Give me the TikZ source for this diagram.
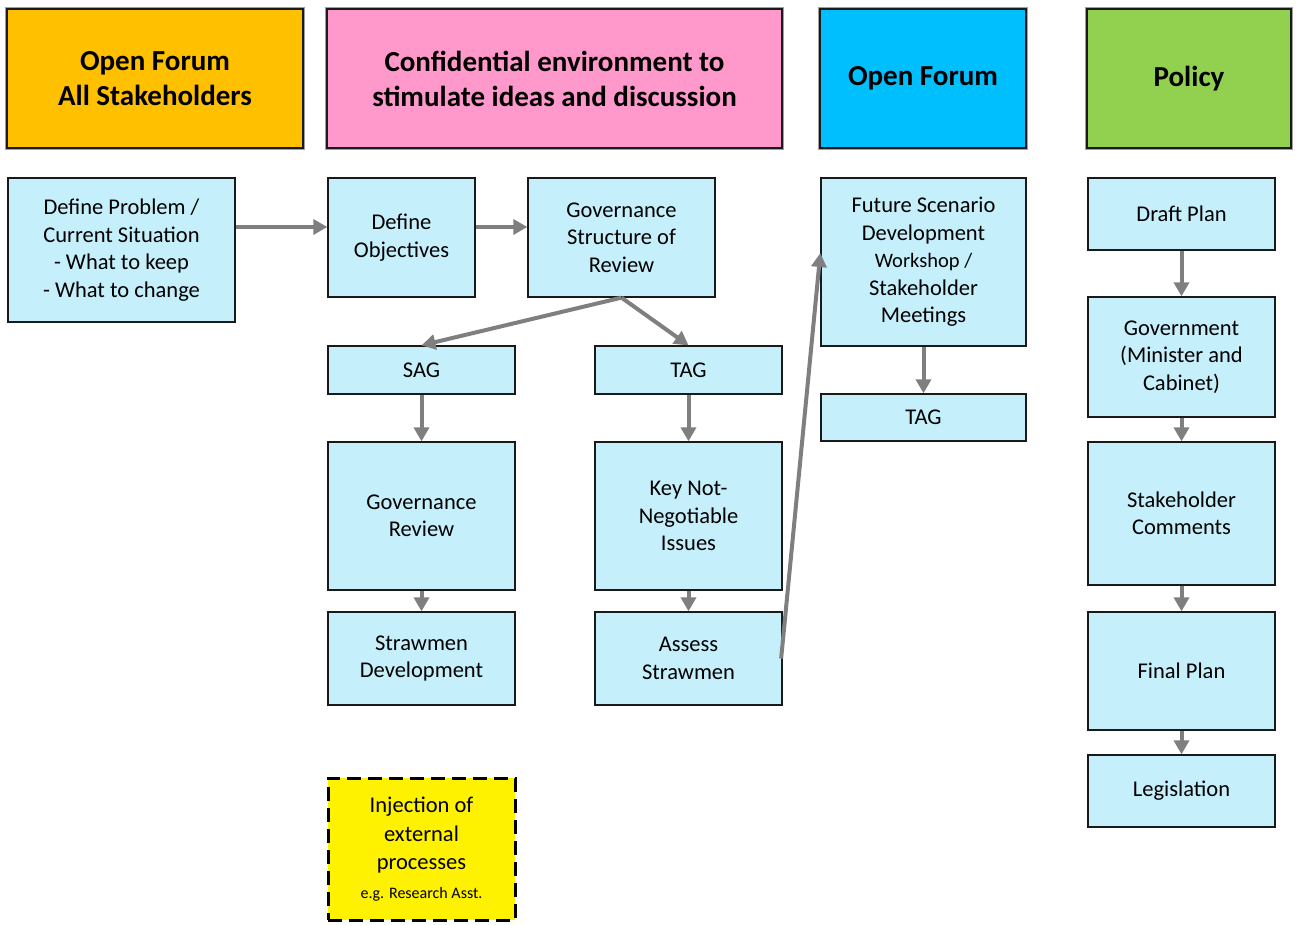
\documentclass[tikz,border=0pt]{standalone}
\usepackage{fontspec}
\setmainfont{Carlito}
\usetikzlibrary{arrows.meta}
\definecolor{boxblue}{HTML}{C6EFFC}
\definecolor{hdrorange}{HTML}{FFC000}
\definecolor{hdrpink}{HTML}{FF99CC}
\definecolor{hdrblue}{HTML}{00BFFF}
\definecolor{hdrgreen}{HTML}{92D050}
\definecolor{flowgray}{HTML}{7F7F7F}
\definecolor{edge}{HTML}{1A1A1A}
\tikzset{
  header/.style={draw=edge, line width=1.2pt, align=center, inner sep=0pt,
    preaction={draw=gray!75, line width=4.5pt},
    font=\fontsize{29}{35}\selectfont\bfseries},
  stepbox/.style={draw=edge, line width=1.3pt, fill=boxblue, align=center, inner sep=0pt,
    font=\fontsize{22.5}{27.5}\selectfont},
  extbox/.style={draw=black, line width=3pt, dash pattern=on 14pt off 7pt, fill=yellow,
    align=center, inner sep=0pt, font=\fontsize{22.5}{28.5}\selectfont},
  flow/.style={draw=flowgray, line width=4pt, -{Triangle[length=14pt,width=15pt]}}
}
\begin{document}
\begin{tikzpicture}[x=1pt,y=-1pt]
\useasboundingbox (0,0) rectangle (1296,924);

% column headers
\node[header, fill=hdrorange, minimum width=296pt, minimum height=139pt] (h1) at (155,78.5) {Open Forum\\All Stakeholders};
\node[header, fill=hdrpink, minimum width=455pt, minimum height=139pt] (h2) at (554.5,78.5) {Confidential environment to\\stimulate ideas and discussion};
\node[header, fill=hdrblue, minimum width=206pt, minimum height=139pt] (h3) at (923,78.5) {Open Forum};
\node[header, fill=hdrgreen, minimum width=204pt, minimum height=139pt] (h4) at (1189,78.5) {Policy};

% open forum: problem definition
\node[stepbox, minimum width=227pt, minimum height=144pt] (prob) at (121.5,250) {Define Problem /\\Current Situation\\- What to keep\\- What to change};

% confidential work
\node[stepbox, minimum width=147pt, minimum height=119pt] (obj) at (401.5,237.5) {Define\\Objectives};
\node[stepbox, minimum width=187pt, minimum height=119pt] (gov) at (621.5,237.5) {Governance\\Structure of\\Review};
\node[stepbox, minimum width=187pt, minimum height=48pt] (sag) at (421.5,370) {SAG};
\node[stepbox, minimum width=187pt, minimum height=48pt] (tag) at (688.5,370) {TAG};
\node[stepbox, minimum width=187pt, minimum height=148pt] (grev) at (421.5,516) {Governance\\Review};
\node[stepbox, minimum width=187pt, minimum height=148pt] (key) at (688.5,516) {Key Not-\\Negotiable\\Issues};
\node[stepbox, minimum width=187pt, minimum height=93pt] (straw) at (421.5,658.5) {Strawmen\\Development};
\node[stepbox, minimum width=187pt, minimum height=93pt] (assess) at (688.5,658.5) {Assess\\Strawmen};
\node[extbox, minimum width=187pt, minimum height=142pt] (inj) at (421.5,849) {Injection of\\external\\processes\\\fontsize{16}{20}\selectfont e.g. Research Asst.};

% open forum: scenarios
\node[stepbox, minimum width=205pt, minimum height=168pt] (fut) at (923.5,262) {Future Scenario\\Development\\\fontsize{20.5}{26}\selectfont Workshop /\\Stakeholder\\Meetings};
\node[stepbox, minimum width=205pt, minimum height=47pt] (tag2) at (923.5,417.5) {TAG};

% policy chain
\node[stepbox, minimum width=187pt, minimum height=72pt] (draft) at (1181.5,214) {Draft Plan};
\node[stepbox, minimum width=187pt, minimum height=120pt] (govt) at (1181.5,357) {Government\\(Minister and\\Cabinet)};
\node[stepbox, minimum width=187pt, minimum height=143pt] (stake) at (1181.5,513.5) {Stakeholder\\Comments};
\node[stepbox, minimum width=187pt, minimum height=118pt] (final) at (1181.5,671) {Final Plan};
\node[stepbox, minimum width=187pt, minimum height=72pt] (legis) at (1181.5,791) {Legislation};

% connectors
\draw[flow] ([yshift=10.5pt]prob.east |- obj.west) -- ([yshift=10.5pt]obj.west);
\draw[flow] ([yshift=10.5pt]obj.east) -- ([yshift=10.5pt]gov.west);
\draw[flow] (gov.south) -- (sag.north);
\draw[flow] (gov.south) -- (tag.north);
\draw[flow] (sag) -- (grev);
\draw[flow] (grev) -- (straw);
\draw[flow] (tag) -- (key);
\draw[flow] (key) -- (assess);
\draw[flow] ([xshift=-1.5pt]assess.east) -- ([yshift=9pt]fut.west);
\draw[flow] (fut) -- (tag2);
\draw[flow] (draft) -- (govt);
\draw[flow] (govt) -- (stake);
\draw[flow] (stake) -- (final);
\draw[flow] (final) -- (legis);
\end{tikzpicture}
\end{document}
